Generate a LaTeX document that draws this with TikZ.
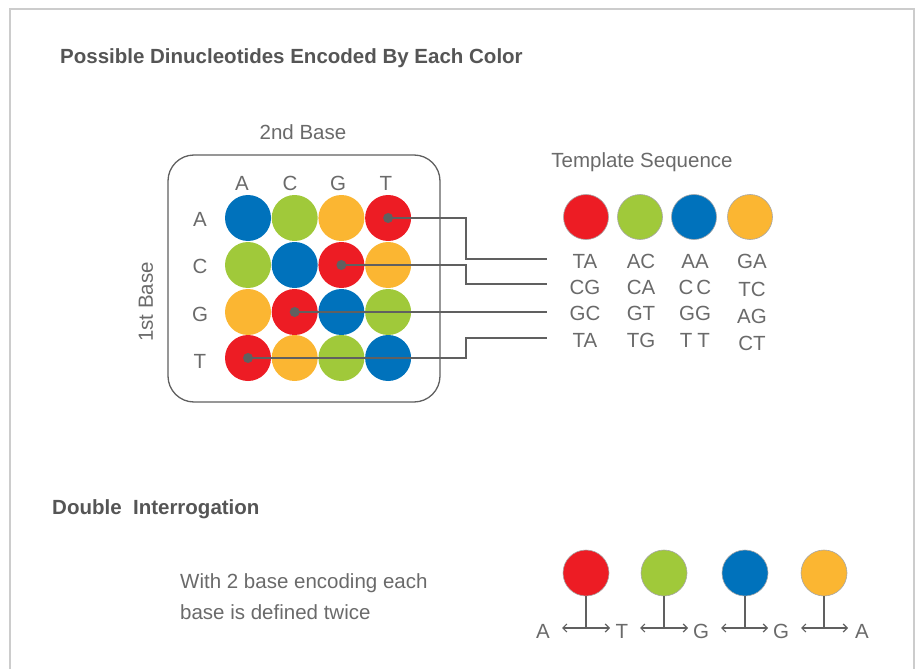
\documentclass[tikz,border=0pt]{standalone}
\usepackage{fontspec}
\setmainfont{Liberation Sans}
\usetikzlibrary{arrows.meta}
\definecolor{cblue}{HTML}{0072BC}
\definecolor{cgreen}{HTML}{A0C93A}
\definecolor{corange}{HTML}{FBB632}
\definecolor{cred}{HTML}{ED1C24}
\definecolor{txt}{HTML}{6A6A6A}
\definecolor{lin}{HTML}{606060}
\definecolor{frame}{HTML}{CCCCCC}
\tikzset{
  dot/.style={circle,inner sep=0pt,minimum size=46pt},
  tdot/.style={circle,inner sep=0pt,minimum size=45pt,draw=gray!70,line width=0.6pt},
  pin/.style={circle,fill=lin,inner sep=0pt,minimum size=10pt},
  lbl/.style={text=txt,font=\fontsize{20.5}{23}\selectfont,inner sep=0pt},
  hdr/.style={text=txt!80!black,font=\fontsize{20.5}{23}\selectfont\bfseries,inner sep=0pt,anchor=west},
  conn/.style={draw=lin,line width=1.4pt},
  darr/.style={draw=lin,line width=1.2pt,{Straight Barb[length=4pt,width=8pt]}-{Straight Barb[length=4pt,width=8pt]}}
}
\begin{document}
\begin{tikzpicture}[x=1pt,y=-1pt]
\useasboundingbox (0,0) rectangle (919,669);
\draw[frame,line width=1.5pt] (10,675) -- (10,9) -- (914,9) -- (914,675);
\node[hdr] (t1) at (60,58) {Possible Dinucleotides Encoded By Each Color};
\draw[lin,line width=1.3pt,rounded corners=26pt] (168,155) rectangle (440,402);
\node[lbl] (sb) at (303,132) {2nd Base};
\node[lbl,rotate=90] (fb) at (146,302) {1st Base};
\foreach \l/\x in {A/242,C/290,G/338,T/386} \node[lbl] (c\l) at (\x,183) {\l};
\foreach \l/\y in {A/219,C/266,G/314,T/361} \node[lbl] (r\l) at (200,\y) {\l};
% grid
\foreach \c [count=\i] in {cblue,cgreen,corange,cred} \node[dot,fill=\c] (gA\i) at (248+46.7*\i-46.7,218) {};
\foreach \c [count=\i] in {cgreen,cblue,cred,corange} \node[dot,fill=\c] (gC\i) at (248+46.7*\i-46.7,265) {};
\foreach \c [count=\i] in {corange,cred,cblue,cgreen} \node[dot,fill=\c] (gG\i) at (248+46.7*\i-46.7,312) {};
\foreach \c [count=\i] in {cred,corange,cgreen,cblue} \node[dot,fill=\c] (gT\i) at (248+46.7*\i-46.7,358) {};
\node[pin] (p1) at (gA4) {};
\node[pin] (p2) at (gC3) {};
\node[pin] (p3) at (gG2) {};
\node[pin] (p4) at (gT1) {};
\coordinate (e1) at (547,259);
\coordinate (e2) at (547,284);
\coordinate (e3) at (547,312);
\coordinate (e4) at (547,338);
\draw[conn] (p1.center) -- (466,218) |- (e1);
\draw[conn] (p2.center) -- (466,265) |- (e2);
\draw[conn] (p3.center) -- (e3);
\draw[conn] (p4.center) -- (466,358) |- (e4);
% template
\node[lbl] (ts) at (642,162) {Template Sequence};
\node[tdot,fill=cred] (k1) at (586,217) {};
\node[tdot,fill=cgreen] (k2) at (640,217) {};
\node[tdot,fill=cblue] (k3) at (694,217) {};
\node[tdot,fill=corange] (k4) at (750,217) {};
\foreach \t [count=\i] in {TA,CG,GC,TA} \node[lbl] (a\i) at (585,235+26.3*\i) {\t};
\foreach \t [count=\i] in {AC,CA,GT,TG} \node[lbl] (b\i) at (641,235+26.3*\i) {\t};
\foreach \t [count=\i] in {AA,C\hspace{3pt}C,GG,T\hspace{5pt}T} \node[lbl] (d\i) at (695,235+26.3*\i) {\t};
\foreach \t [count=\i] in {GA,TC,AG,CT} \node[lbl] (f\i) at (752,234.5+27.3*\i) {\t};
% double interrogation
\node[hdr] (t2) at (52,509) {Double\ \ Interrogation};
\node[lbl,anchor=west] (w1) at (180,583) {With 2 base encoding each};
\node[lbl,anchor=west] (w2) at (180,612) {base is defined twice};
\node[tdot,fill=cred,minimum size=46pt] (m1) at (586,573) {};
\node[tdot,fill=cgreen,minimum size=46pt] (m2) at (664,573) {};
\node[tdot,fill=cblue,minimum size=46pt] (m3) at (745,573) {};
\node[tdot,fill=corange,minimum size=46pt] (m4) at (824,573) {};
\node[lbl] (n1) at (543,631) {A};
\node[lbl] (n2) at (622,631) {T};
\node[lbl] (n3) at (701,631) {G};
\node[lbl] (n4) at (781,631) {G};
\node[lbl] (n5) at (862,631) {A};
\foreach \i/\a/\b in {1/562/610,2/640/688,3/721/768,4/801/848}{
  \coordinate (s\i) at (m\i |- 0,628);
  \draw[darr] (\a,628) -- (\b,628);
  \draw[conn,line width=1.2pt] (m\i.south) -- (s\i);
}
\end{tikzpicture}
\end{document}
